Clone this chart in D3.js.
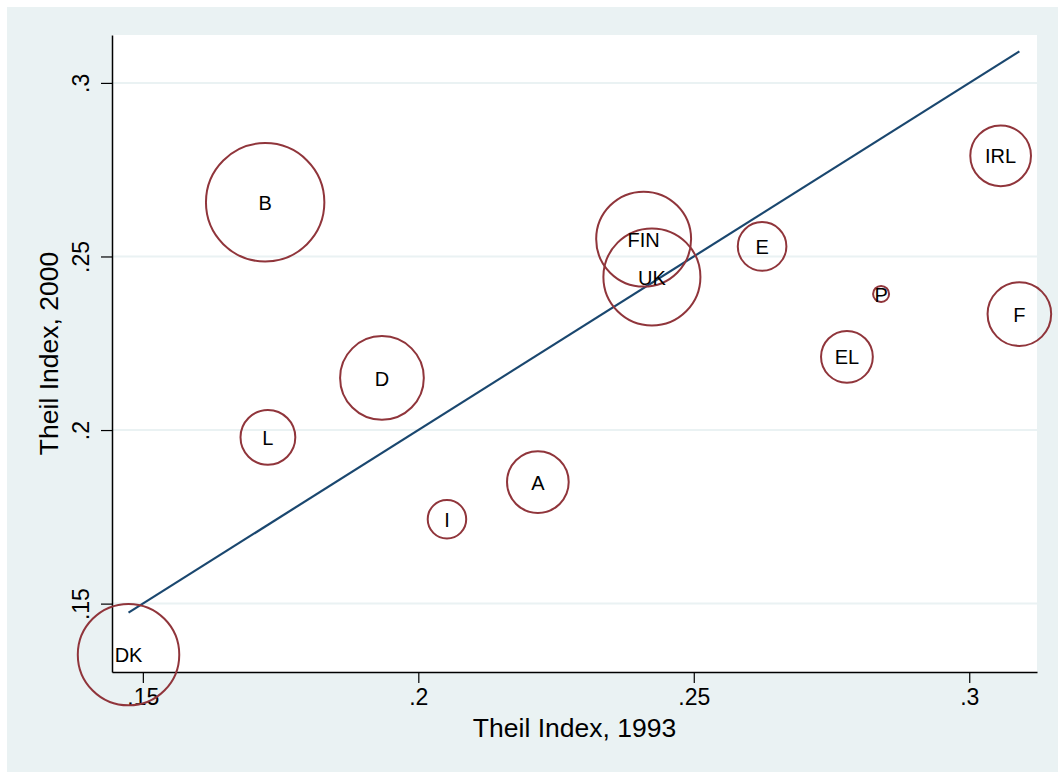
<!DOCTYPE html>
<html>
<head>
<meta charset="utf-8">
<script src="https://cdn.jsdelivr.net/npm/d3@7"></script>
<style>
  html, body { margin: 0; padding: 0; background: #ffffff; }
  svg { display: block; }
  text { font-family: "Liberation Sans", Arial, Helvetica, sans-serif; fill: #000; }
</style>
</head>
<body>
<svg id="chart" width="1058" height="772"></svg>
<script>
// Regional inequality (Theil index) by country, 1993 vs 2000
const countries = ["DK", "B", "L", "D", "I", "A", "FIN", "UK", "E", "P", "EL", "IRL", "F"];
const theil1993 = [0.1474, 0.1722, 0.1727, 0.1934, 0.2052, 0.2217, 0.2409, 0.2424, 0.2624, 0.2840, 0.2778, 0.3057, 0.3091];
const theil2000 = [0.1353, 0.2656, 0.1979, 0.2150, 0.1743, 0.1850, 0.2550, 0.2441, 0.2529, 0.2392, 0.2211, 0.2790, 0.2334];
const weights   = [25.7, 35.0, 7.5, 17.5, 3.7, 9.5, 22.5, 23.5, 5.9, 0.64, 6.7, 9.2, 10.1];
const xTicks = [0.15, 0.2, 0.25, 0.3];
const yTicks = [0.15, 0.2, 0.25, 0.3];
const xTitle = "Theil Index, 1993";
const yTitle = "Theil Index, 2000";

const data = countries.map((c, i) => ({ c, x: theil1993[i], y: theil2000[i], w: weights[i] }));

const W = 1058, H = 772;
const plot = { left: 112, right: 1037, top: 35, bottom: 672 };

const svg = d3.select("#chart");

// graph region and plot region backgrounds
svg.append("rect").attr("x", 7).attr("y", 7).attr("width", W - 7).attr("height", H - 7).attr("fill", "#eaf2f3");
svg.append("rect").attr("x", plot.left).attr("y", plot.top)
  .attr("width", plot.right - plot.left).attr("height", plot.bottom - plot.top).attr("fill", "#ffffff");

const x = d3.scaleLinear().domain([0.1444, 0.3123]).range([plot.left, plot.right]);
const y = d3.scaleLinear().domain([0.1303, 0.3138]).range([plot.bottom, plot.top]);
const r = d3.scaleSqrt().domain([0, 35]).range([0, 59.2]);

const fmt = v => d3.format(".2~f")(v).replace(/^0/, "");

// horizontal grid lines
svg.append("g").selectAll("line").data(yTicks).join("line")
  .attr("x1", plot.left).attr("x2", plot.right)
  .attr("y1", d => y(d)).attr("y2", d => y(d))
  .attr("stroke", "#eaf2f3").attr("stroke-width", 2);

// x axis
const xAxis = svg.append("g").attr("transform", `translate(0,${plot.bottom})`)
  .call(d3.axisBottom(x).tickValues(xTicks).tickFormat(fmt).tickSize(11).tickPadding(6).tickSizeOuter(0));
xAxis.select(".domain").attr("stroke", "#000").attr("stroke-width", 1.5);
xAxis.selectAll(".tick line").attr("stroke", "#000").attr("stroke-width", 1.2);
xAxis.selectAll(".tick text").attr("font-size", 23).attr("fill", "#000")
  .attr("font-family", "'Liberation Sans', Arial, sans-serif");

// y axis, labels rotated to read bottom to top
const yAxis = svg.append("g").attr("transform", `translate(${plot.left},0)`)
  .call(d3.axisLeft(y).tickValues(yTicks).tickFormat(fmt).tickSize(11).tickSizeOuter(0));
yAxis.select(".domain").attr("stroke", "#000").attr("stroke-width", 1.5);
yAxis.selectAll(".tick line").attr("stroke", "#000").attr("stroke-width", 1.2);
yAxis.selectAll(".tick text")
  .attr("font-size", 23).attr("fill", "#000")
  .attr("font-family", "'Liberation Sans', Arial, sans-serif")
  .attr("x", null).attr("dy", null)
  .attr("text-anchor", "middle")
  .attr("transform", "translate(-23,0) rotate(-90)");

// axis titles
svg.append("text").attr("x", (plot.left + plot.right) / 2).attr("y", 737)
  .attr("text-anchor", "middle").attr("font-size", 26.5).text(xTitle);
svg.append("text")
  .attr("transform", `translate(58,${(plot.top + plot.bottom) / 2}) rotate(-90)`)
  .attr("text-anchor", "middle").attr("font-size", 26.5).text(yTitle);

// 45-degree reference line across the observed 1993 range
const ext = d3.extent(theil1993);
svg.append("line")
  .attr("x1", x(ext[0])).attr("y1", y(ext[0]))
  .attr("x2", x(ext[1])).attr("y2", y(ext[1]))
  .attr("stroke", "#1a476f").attr("stroke-width", 2.2);

// weighted bubbles
svg.append("g").selectAll("circle").data(data).join("circle")
  .attr("cx", d => x(d.x)).attr("cy", d => y(d.y)).attr("r", d => r(d.w))
  .attr("fill", "none").attr("stroke", "#90353b").attr("stroke-width", 2);

// country labels centred on markers
svg.append("g").selectAll("text").data(data).join("text")
  .attr("x", d => x(d.x)).attr("y", d => y(d.y))
  .attr("dy", "0.38em").attr("text-anchor", "middle")
  .attr("font-size", 20).text(d => d.c);
</script>
</body>
</html>
